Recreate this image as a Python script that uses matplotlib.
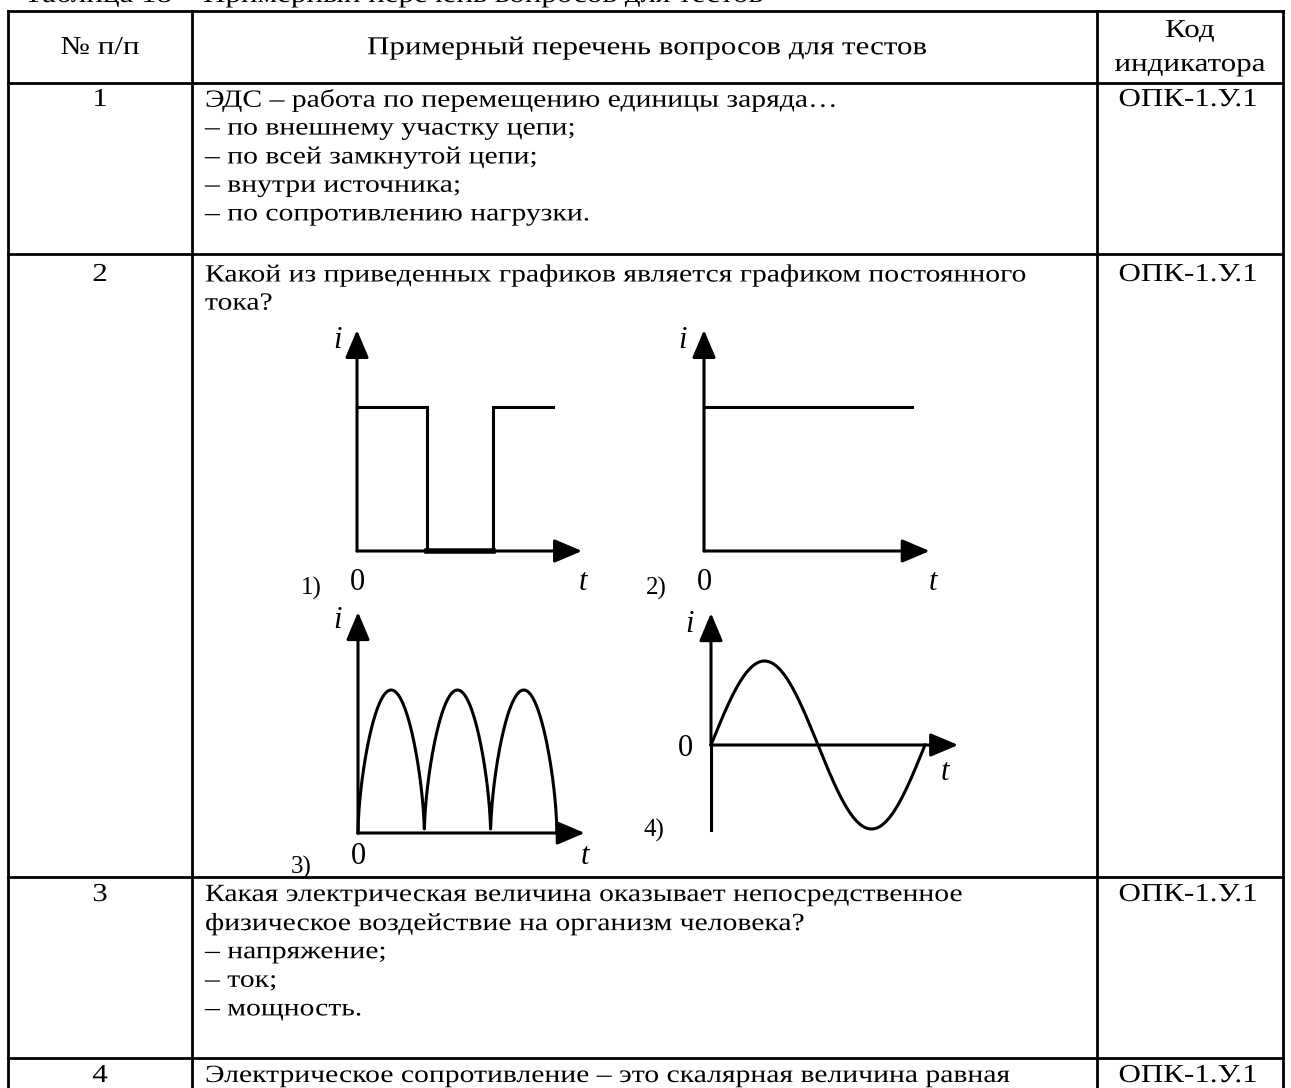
import matplotlib
matplotlib.use('Agg')
import matplotlib.pyplot as plt
import numpy as np
from matplotlib.patheffects import AbstractPathEffect
from matplotlib.transforms import Affine2D

W, H = 1291, 1088
FONT = 'Liberation Serif'

# ---------------- data ----------------
caption = "Таблица 18 – Примерный перечень вопросов для тестов"
header_num = "№ п/п"
header_q = "Примерный перечень вопросов для тестов"
header_code = ["Код", "индикатора"]
row_numbers = ["1", "2", "3", "4"]
row_codes = ["ОПК-1.У.1", "ОПК-1.У.1", "ОПК-1.У.1", "ОПК-1.У.1"]
row1_lines = ["ЭДС – работа по перемещению единицы заряда…",
              "– по внешнему участку цепи;",
              "– по всей замкнутой цепи;",
              "– внутри источника;",
              "– по сопротивлению нагрузки."]
row2_lines = ["Какой из приведенных графиков является графиком постоянного",
              "тока?"]
row3_lines = ["Какая электрическая величина оказывает непосредственное",
              "физическое воздействие на организм человека?",
              "– напряжение;",
              "– ток;",
              "– мощность."]
row4_lines = ["Электрическое сопротивление – это скалярная величина равная"]

# graph 1: rectangular pulses (time, current)
pulse_t = [0.0, 1.06, 1.06, 2.06, 2.06, 2.97]
pulse_i = [1.0, 1.0, 0.0, 0.0, 1.0, 1.0]
# graph 2: constant current
dc_t = [0.0, 3.15]
dc_i = [1.0, 1.0]
# graph 3: rectified current humps (number of humps, amplitude, roundness)
rect_halfwaves = 3
rect_amp = 1.0
rect_round = 0.6
# graph 4: sinusoidal current (number of half-periods, amplitude)
sine_halfperiods = 2
sine_amp = 1.0

graph_labels = ["1)", "2)", "3)", "4)"]

# ---------------- helpers ----------------
SX = 1.2  # the source scan is stretched horizontally


class XStretch(AbstractPathEffect):
    """Draw the text stretched horizontally about its anchor point."""

    def __init__(self, sx=SX):
        super().__init__()
        self.sx = sx
        self.text = None

    def draw_path(self, renderer, gc, tpath, affine, rgbFace=None):
        x0, _ = self.text.get_transform().transform(self.text.get_unitless_position())
        st = Affine2D().translate(-x0, 0).scale(self.sx, 1).translate(x0, 0)
        renderer.draw_path(gc, tpath, affine + st, rgbFace)


def stext(a, x, y, s, **kw):
    t = a.text(x, y, s, **kw)
    pe = XStretch()
    pe.text = t
    t.set_path_effects([pe])
    return t


# ---------------- layout ----------------
fig = plt.figure(figsize=(W / 100, H / 100), dpi=100)
ax = fig.add_axes([0, 0, 1, 1])
ax.set_xlim(0, W)
ax.set_ylim(H, 0)
ax.axis('off')

TLW = 2.0
xL, xC1, xC2, xR = 8, 192, 1097, 1283
yT, yH, y1, y2, y3 = 11, 83, 254, 877, 1058

for y in [yT, yH, y1, y2, y3]:
    ax.plot([xL, xR], [y, y], color='black', lw=TLW, solid_capstyle='projecting')
for x in [xL, xC1, xC2, xR]:
    ax.plot([x, x], [yT, H + 5], color='black', lw=TLW, solid_capstyle='projecting')

BODY = 17.8
BIG = 18.6

stext(ax, 24, 2, caption, fontsize=BIG, family=FONT, va='baseline', ha='left')

stext(ax, 100, 48, header_num, fontsize=BIG, family=FONT, va='center', ha='center')
stext(ax, 647, 48, header_q, fontsize=BIG, family=FONT, va='center', ha='center')
stext(ax, 1190, 31, header_code[0], fontsize=BIG, family=FONT, va='center', ha='center')
stext(ax, 1190, 65, header_code[1], fontsize=BIG, family=FONT, va='center', ha='center')

row_top_text = [100, 275, 895, 1076]
row_lines = [row1_lines, row2_lines, row3_lines, row4_lines]
LS = 28.6
for k in range(4):
    yc = row_top_text[k]
    stext(ax, 100, yc, row_numbers[k], fontsize=BIG, family=FONT, va='center', ha='center')
    stext(ax, 1188, yc, row_codes[k], fontsize=BIG, family=FONT, va='center', ha='center')
    for j, line in enumerate(row_lines[k]):
        stext(ax, 205, yc + j * LS, line, fontsize=BODY, family=FONT, va='center', ha='left')

# ---------------- graphs ----------------
GLW = 2.2


def graph_axes(x0, y0, sx, sy, xmin, xmax, ymin, ymax):
    """inset axes whose data origin sits at pixel (x0, y0), sx/sy px per unit"""
    left = (x0 + xmin * sx) / W
    right = (x0 + xmax * sx) / W
    top = (y0 - ymax * sy)
    bottom = (y0 - ymin * sy)
    a = fig.add_axes([left, 1 - bottom / H, right - left, (bottom - top) / H])
    a.set_xlim(xmin, xmax)
    a.set_ylim(ymin, ymax)
    a.axis('off')
    a.patch.set_alpha(0)
    return a


def arrow(a, start, tip):
    a.annotate('', xy=tip, xytext=start,
               arrowprops=dict(arrowstyle='-|>,head_length=0.85,head_width=0.36',
                               mutation_scale=20, lw=GLW, color='black',
                               shrinkA=0, shrinkB=0))


# Graph 1
g1 = graph_axes(357, 551, 66, 144, -0.2, 3.6, -0.2, 1.6)
arrow(g1, (0, 0), (0, 1.535))
arrow(g1, (0, 0), (3.41, 0))
g1.plot(pulse_t, pulse_i, color='black', lw=GLW, solid_joinstyle='miter')
g1.plot([pulse_t[2], pulse_t[3]], [0, 0], color='black', lw=GLW * 1.8)

# Graph 2
g2 = graph_axes(704, 551, 66, 144, -0.2, 3.6, -0.2, 1.6)
arrow(g2, (0, 0), (0, 1.535))
arrow(g2, (0, 0), (3.42, 0))
g2.plot(dc_t, dc_i, color='black', lw=GLW)

# Graph 3
g3 = graph_axes(358, 833, 66.3, 143, -0.2, 3.6, -0.2, 1.6)
arrow(g3, (0, 0), (0, 1.545))
arrow(g3, (0, 0), (3.42, 0))
tt = np.linspace(0, rect_halfwaves, 1200)
g3.plot(tt, rect_amp * np.abs(np.sin(np.pi * tt)) ** rect_round, color='black', lw=GLW)

# Graph 4
g4 = graph_axes(711, 745, 107, 84, -0.2, 2.45, -1.1, 1.65)
g4.plot([0, 0], [-1.01, 0], color='black', lw=GLW)
arrow(g4, (0, 0), (0, 1.57))
arrow(g4, (0, 0), (2.31, 0))
ts = np.linspace(0, sine_halfperiods, 600)
g4.plot(ts, sine_amp * np.sin(np.pi * ts), color='black', lw=GLW)

# graph labels
LBL = 22
NUM = 18
for (xi, yi, xz, yz, xt, yt, xn, yn, lab) in [
        (338, 340, 357, 582, 583, 582, 311, 588, graph_labels[0]),
        (683, 340, 704, 582, 933, 582, 656, 588, graph_labels[1]),
        (338, 620, 358, 857, 585, 857, 301, 867, graph_labels[2]),
        (690, 625, 685, 748, 945, 772, 654, 830, graph_labels[3])]:
    ax.text(xi, yi, 'i', fontsize=LBL, family=FONT, style='italic', ha='center', va='center')
    ax.text(xz, yz, '0', fontsize=LBL, family=FONT, ha='center', va='center')
    ax.text(xt, yt, 't', fontsize=LBL, family=FONT, style='italic', ha='center', va='center')
    ax.text(xn, yn, lab, fontsize=NUM, family=FONT, ha='center', va='center')

fig.savefig('out.png', dpi=100, facecolor='white')
